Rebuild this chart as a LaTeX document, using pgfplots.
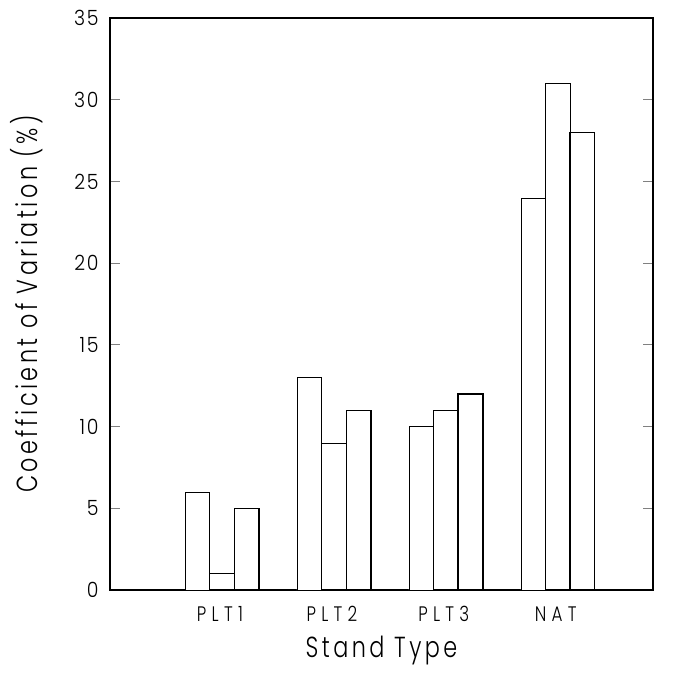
\documentclass[border=0pt]{standalone}
\usepackage{fontspec}
\setmainfont{Poppins Light}[LetterSpace=8]
\newfontfamily\labfont{Poppins Light}[LetterSpace=12, FakeStretch=0.77]
\newfontfamily\xtfont{Poppins Light}[LetterSpace=25, FakeStretch=0.8]
\newfontfamily\ytfont{Poppins Light}[LetterSpace=8, FakeStretch=0.9]
\usepackage{pgfplots}
\pgfplotsset{compat=1.18}
\begin{document}
\begin{tikzpicture}
\begin{axis}[
  at={(0,0)}, anchor=south west,
  scale only axis,
  width=543pt, height=572pt,
  xmin=0, xmax=4.85,
  ymin=0, ymax=35,
  ytick={0,5,...,35},
  xtick={1,2,3,4},
  xticklabels={PLT1,PLT2,PLT3,NAT},
  xtick style={draw=none},
  ytick style={line width=0.8pt},
  major tick length=10pt,
  tick align=inside,
  ytick pos=both,
  yticklabel pos=left,
  axis line style={line width=1.2pt},
  /pgf/number format/assume math mode=true,
  yticklabel style={font=\ytfont\fontsize{21}{23}\selectfont, xshift=-8pt},
  xticklabel style={font=\xtfont\fontsize{21}{23}\selectfont, yshift=-3pt, xshift=-2pt},
  ylabel={Coefficient of Variation (\%)},
  xlabel={Stand Type},
  ylabel style={font=\labfont\fontsize{29}{31}\selectfont, yshift=24pt},
  xlabel style={font=\labfont\fontsize{29}{31}\selectfont, yshift=-7pt},
  ybar=0pt, bar width=0.22,
  cycle list={{fill=white, draw=black, line width=1.4pt}},
]
\addplot coordinates {(1,6) (2,13) (3,10) (4,24)};
\addplot coordinates {(1,1) (2,9) (3,11) (4,31)};
\addplot coordinates {(1,5) (2,11) (3,12) (4,28)};
\end{axis}
\useasboundingbox (-110pt,-91pt) rectangle (568pt,590pt);
\end{tikzpicture}
\end{document}
